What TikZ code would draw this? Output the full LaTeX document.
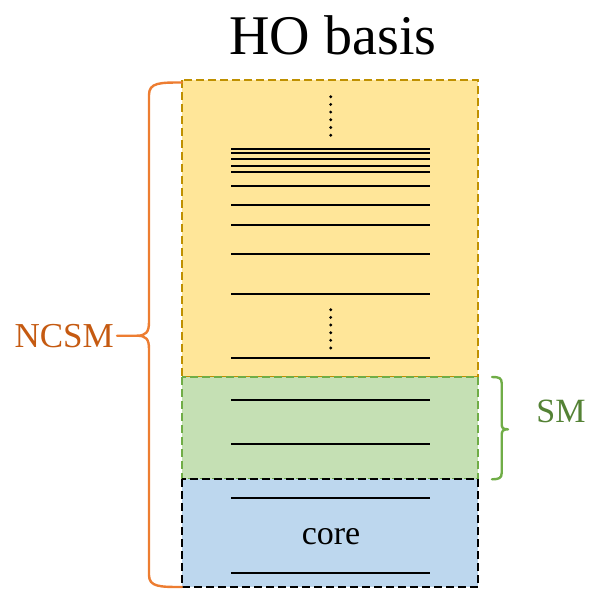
\documentclass[tikz,border=0pt]{standalone}
\usepackage{fontspec}
\setmainfont{Liberation Serif}
\definecolor{ncsmfill}{HTML}{FFE699}
\definecolor{ncsmedge}{HTML}{BF9000}
\definecolor{smfill}{HTML}{C5E0B4}
\definecolor{smedge}{HTML}{70AD47}
\definecolor{smtext}{HTML}{548235}
\definecolor{corefill}{HTML}{BDD7EE}
\definecolor{braceorange}{HTML}{ED7D31}
\definecolor{textorange}{HTML}{C55A11}
\tikzset{
  shellbox/.style={line width=1.3pt, dash pattern=on 8pt off 4pt},
  level/.style={line width=1.7pt, black},
  dotcol/.style={fill=black},
  bracepath/.style={line width=2.4pt, line join=round, line cap=round},
  label/.style={font=\fontsize{34}{40}\selectfont, inner sep=0pt},
}
\begin{document}
\begin{tikzpicture}[x=1pt, y=-1pt]
\useasboundingbox (0,0) rectangle (590,589);

% title
\node[font=\fontsize{56}{62}\selectfont, inner sep=0pt] (title) at (333,35) {HO basis};

% model spaces
\draw[shellbox, fill=ncsmfill, draw=ncsmedge] (182,80) rectangle (478,377);
\draw[shellbox, fill=smfill, draw=smedge] (182,377) rectangle (478,479);
\draw[shellbox, fill=corefill, draw=black] (182,479) rectangle (478,587);

% oscillator levels
\foreach \y in {149,152.7,159,166,172.3,185.7,205,225,254,294,358,399.7,443.7,497.7,573}
  \draw[level] (231,\y) -- (430,\y);

% vertical ellipses
\foreach \y in {96.7,104.4,112.1,119.8,127.5,135.3}
  \fill[dotcol] (330.7,\y) circle (1.6);
\foreach \y in {309.7,317.4,325,332.7,340.3,348}
  \fill[dotcol] (330.7,\y) circle (1.6);

\node[label] (core) at (331,537) {core};

% NCSM brace
\coordinate (ntip) at (117,335.7);
\draw[bracepath, braceorange]
  (182,82.5) .. controls (160,82.5) and (149,82.5) .. (149,95)
  -- (149,322) .. controls (149,332) and (146,335.7) .. (137,335.7)
  -- (ntip)
  (137,335.7) .. controls (146,335.7) and (149,339) .. (149,349)
  -- (149,575) .. controls (149,587) and (160,587) .. (182,587);
\node[label, text=textorange, anchor=east, font=\fontsize{35}{40}\selectfont] (ncsm) at ([xshift=-3pt]ntip) {NCSM};

% SM brace
\coordinate (stip) at (508,429.3);
\draw[bracepath, smedge]
  (492,377) .. controls (499,377) and (501.7,378) .. (501.7,383)
  -- (501.7,424) .. controls (501.7,428) and (503,429.3) .. (stip)
  .. controls (503,429.3) and (501.7,431) .. (501.7,435)
  -- (501.7,473) .. controls (501.7,478) and (499,479.3) .. (492,479.3);
\node[label, text=smtext] (sm) at (561,411) {SM};
\end{tikzpicture}
\end{document}
